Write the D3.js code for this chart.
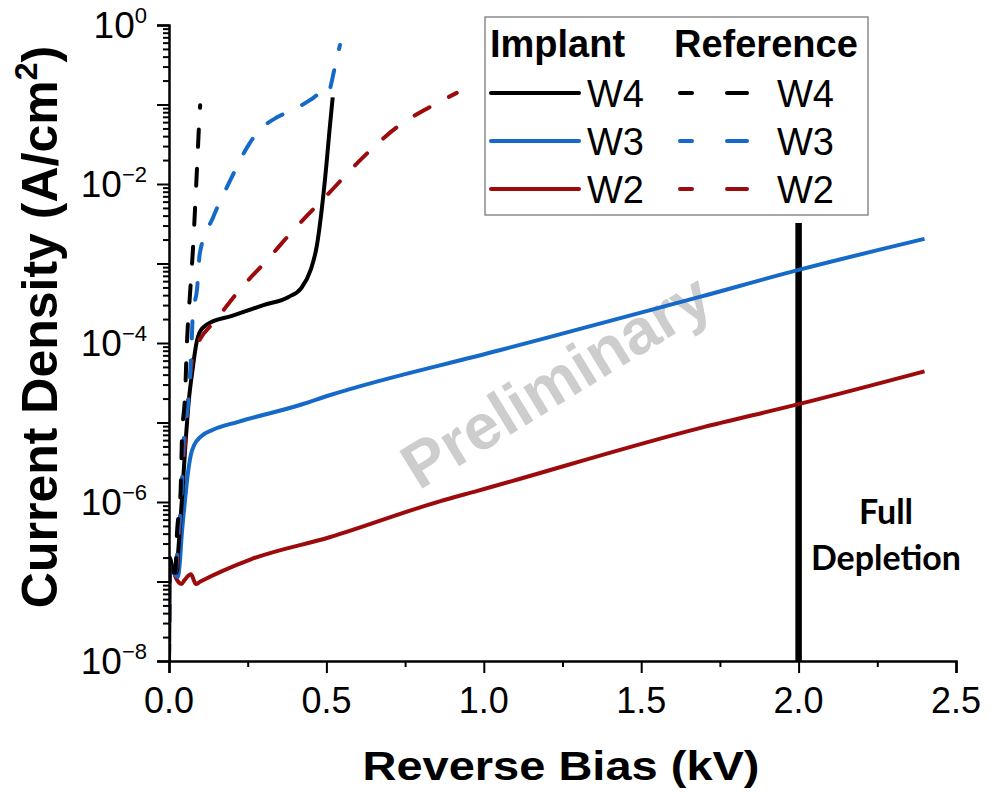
<!DOCTYPE html>
<html>
<head>
<meta charset="utf-8">
<script src="https://cdn.jsdelivr.net/npm/d3@7"></script>
<style>
  body { margin: 0; background: #fff; }
  svg { display: block; }
  text { font-family: "Liberation Sans", Arial, sans-serif; }
</style>
</head>
<body>
<div id="chart"></div>
<script>
// Bias in kV, current density in A/cm2
const w4ImplantV = [0, 0.002, 0.015, 0.025, 0.029, 0.041, 0.051, 0.063, 0.076, 0.086, 0.098, 0.12, 0.20, 0.30, 0.38, 0.42, 0.45, 0.47, 0.485, 0.50, 0.51, 0.52];
const w4ImplantJ = [1e-8, 2e-7, 1.3e-7, 1.3e-7, 2.3e-7, 1.07e-6, 4.5e-6, 1.9e-5, 5e-5, 9.4e-5, 1.38e-4, 1.7e-4, 2.2e-4, 3.0e-4, 3.8e-4, 4.9e-4, 8.3e-4, 1.7e-3, 4.7e-3, 1.74e-2, 4.8e-2, 0.123];

const w3ImplantV = [0, 0.002, 0.015, 0.028, 0.033, 0.041, 0.051, 0.060, 0.070, 0.080, 0.100, 0.14, 0.22, 0.416, 0.51, 1.05, 1.686, 2.0, 2.4];
const w3ImplantJ = [1e-8, 1.9e-7, 1.3e-7, 1.15e-7, 1.5e-7, 4.1e-7, 1.07e-6, 2.3e-6, 4.0e-6, 5.2e-6, 6.6e-6, 8.1e-6, 1.02e-5, 1.66e-5, 2.2e-5, 8.1e-5, 3.8e-4, 8.3e-4, 2.04e-3];

const w2ImplantV = [0, 0.002, 0.01, 0.025, 0.04, 0.05, 0.07, 0.085, 0.1, 0.26, 0.51, 0.86, 0.98, 1.686, 2.0, 2.4];
const w2ImplantJ = [1e-8, 1.9e-7, 1.5e-7, 1.05e-7, 9.3e-8, 1.05e-7, 1.23e-7, 9.3e-8, 1.0e-7, 1.9e-7, 3.6e-7, 1.02e-6, 1.38e-6, 8.5e-6, 1.7e-5, 4.4e-5];

const w4RefV = [0, 0.002, 0.02, 0.025, 0.037, 0.041, 0.051, 0.057, 0.067, 0.076, 0.083, 0.089, 0.098, 0.099];
const w4RefJ = [1e-8, 2e-7, 1.3e-7, 3.8e-7, 1.4e-6, 6.0e-6, 2.2e-5, 1.0e-4, 4.3e-4, 1.5e-3, 5.1e-3, 1.6e-2, 8.5e-2, 9.8e-2];

const w3RefV = [0, 0.002, 0.02, 0.029, 0.040, 0.046, 0.062, 0.071, 0.076, 0.089, 0.098, 0.140, 0.194, 0.257, 0.289, 0.343, 0.394, 0.457, 0.489, 0.502, 0.527, 0.543];
const w3RefJ = [1e-8, 1.9e-7, 1.3e-7, 3.6e-7, 1.3e-6, 5.2e-6, 2.0e-5, 8.1e-5, 2.4e-4, 4.7e-4, 1.35e-3, 3.8e-3, 1.1e-2, 3.3e-2, 4.8e-2, 6.9e-2, 8.5e-2, 0.12, 0.145, 0.132, 0.295, 0.56];

const w2RefV = [0, 0.002, 0.02, 0.032, 0.040, 0.051, 0.062, 0.076, 0.092, 0.149, 0.225, 0.311, 0.394, 0.511, 0.613, 0.733, 0.829, 0.914];
const w2RefJ = [1e-8, 1.9e-7, 1.3e-7, 3.6e-7, 1.4e-6, 5.5e-6, 2.1e-5, 7.1e-5, 1.0e-4, 1.95e-4, 4.7e-4, 1.1e-3, 2.6e-3, 7.9e-3, 2.1e-2, 5.5e-2, 9.3e-2, 0.14];

const xTicks = [0, 0.5, 1.0, 1.5, 2.0, 2.5];
const yLabelExps = [0, -2, -4, -6, -8];
const fullDepletionV = 2.0;

const seriesNames = ['W4', 'W3', 'W2'];
const seriesColors = ['#000000', '#1469c9', '#9c0a0c'];

const width = 992;
const height = 795;

const svg = d3.select('#chart').append('svg')
  .attr('width', width)
  .attr('height', height);

const x = d3.scaleLinear().domain([0, 2.5]).range([169, 956]);
const y = d3.scaleLog().domain([1e-8, 1]).range([661, 25]);

svg.append('defs').append('clipPath')
  .attr('id', 'plot-clip')
  .append('rect')
  .attr('x', x(0))
  .attr('y', y(1) - 2)
  .attr('width', x(2.5) - x(0))
  .attr('height', y(1e-8) - y(1) + 2);

// Watermark sits behind the data
svg.append('text')
  .attr('transform', 'translate(556,381) rotate(-31.5)')
  .attr('text-anchor', 'middle')
  .attr('dominant-baseline', 'central')
  .style('font-size', '64px')
  .style('font-weight', 'bold')
  .style('fill', '#cdcdcd')
  .text('Preliminary');

// Axes
const xAxis = svg.append('g')
  .attr('transform', `translate(0,${y(1e-8)})`)
  .call(d3.axisBottom(x).tickValues(d3.range(0, 2.51, 0.25)).tickSize(12).tickFormat(''));
xAxis.selectAll('.tick line')
  .attr('y2', d => (Math.round(d * 100) % 50 === 0 ? 12 : 6));

xAxis.selectAll('.x-label')
  .data(xTicks)
  .join('text')
  .attr('x', d => x(d))
  .attr('y', 52)
  .attr('text-anchor', 'middle')
  .style('font-size', '36px')
  .style('fill', '#000')
  .text(d => d.toFixed(1));

const minorY = [];
for (let e = -8; e < 0; e++) {
  for (let m = 1; m <= 9; m++) minorY.push(m * Math.pow(10, e));
}
minorY.push(1);

const yAxis = svg.append('g')
  .attr('transform', `translate(${x(0)},0)`)
  .call(d3.axisLeft(y).tickValues(minorY).tickFormat('').tickSize(12));
yAxis.selectAll('.tick line')
  .attr('x2', d => {
    const e = Math.log10(d);
    return Math.abs(e - Math.round(e)) < 1e-6 ? -12 : -6;
  });

[xAxis, yAxis].forEach(g => {
  g.select('.domain').attr('stroke-width', 2.5).attr('stroke', '#000');
  g.selectAll('.tick line').attr('stroke-width', 2).attr('stroke', '#000');
});

const yLabels = svg.append('g');
yLabelExps.forEach(e => {
  const t = yLabels.append('text')
    .attr('x', 147)
    .attr('y', y(Math.pow(10, e)) + 13)
    .attr('text-anchor', 'end')
    .style('font-size', '37px');
  t.append('tspan').text('10');
  t.append('tspan')
    .attr('dy', -15)
    .style('font-size', '22px')
    .text(e === 0 ? '0' : '\u2212' + Math.abs(e));
});

// Axis titles
svg.append('text')
  .attr('x', 561)
  .attr('y', 780)
  .attr('text-anchor', 'middle')
  .attr('textLength', 397)
  .attr('lengthAdjust', 'spacingAndGlyphs')
  .style('font-size', '40px')
  .style('font-weight', 'bold')
  .text('Reverse Bias (kV)');

const yTitle = svg.append('text')
  .attr('transform', 'translate(57,327) rotate(-90)')
  .attr('text-anchor', 'middle')
  .style('font-size', '50px')
  .style('font-weight', 'bold');
yTitle.append('tspan').text('Current Density (A/cm');
yTitle.append('tspan').attr('dy', -20).style('font-size', '32px').text('2');
yTitle.append('tspan').attr('dy', 20).text(')');

// Full depletion marker
svg.append('line')
  .attr('x1', x(fullDepletionV))
  .attr('x2', x(fullDepletionV))
  .attr('y1', 223)
  .attr('y2', y(1e-8))
  .attr('stroke', '#000')
  .attr('stroke-width', 6.5);

const fdText = svg.append('text')
  .attr('text-anchor', 'middle')
  .style('font-family', 'Lato, "Open Sans", sans-serif')
  .style('font-weight', 'bold')
  .style('font-size', '34px');
fdText.append('tspan').attr('x', 886).attr('y', 524).text('Full');
fdText.append('tspan').attr('x', 886).attr('y', 570).text('Depletion');

// Curves
const line = d3.line()
  .x(d => x(d[0]))
  .y(d => y(d[1]))
  .curve(d3.curveMonotoneX);

const implant = [
  d3.zip(w4ImplantV, w4ImplantJ),
  d3.zip(w3ImplantV, w3ImplantJ),
  d3.zip(w2ImplantV, w2ImplantJ)
];
const reference = [
  d3.zip(w4RefV, w4RefJ),
  d3.zip(w3RefV, w3RefJ),
  d3.zip(w2RefV, w2RefJ)
];

const curves = svg.append('g').attr('clip-path', 'url(#plot-clip)');

[2, 1, 0].forEach(i => {
  curves.append('path')
    .attr('d', line(implant[i]))
    .attr('fill', 'none')
    .attr('stroke', seriesColors[i])
    .attr('stroke-width', 4)
    .attr('stroke-linejoin', 'round');
});

[2, 1, 0].forEach(i => {
  curves.append('path')
    .attr('d', line(reference[i]))
    .attr('fill', 'none')
    .attr('stroke', seriesColors[i])
    .attr('stroke-width', 4)
    .attr('stroke-linecap', 'round')
    .attr('stroke-dasharray', '17,22');
});

// Legend
const legend = svg.append('g');
legend.append('rect')
  .attr('x', 485)
  .attr('y', 17)
  .attr('width', 383)
  .attr('height', 198)
  .attr('fill', '#fff')
  .attr('stroke', '#8a8a8a')
  .attr('stroke-width', 1.5);

legend.append('text')
  .attr('x', 490).attr('y', 57)
  .style('font-size', '38px').style('font-weight', 'bold')
  .text('Implant');
legend.append('text')
  .attr('x', 674).attr('y', 57)
  .style('font-size', '38px').style('font-weight', 'bold')
  .text('Reference');

seriesNames.forEach((name, i) => {
  const cy = 93 + i * 48;
  legend.append('line')
    .attr('x1', 491).attr('x2', 579)
    .attr('y1', cy).attr('y2', cy)
    .attr('stroke', seriesColors[i])
    .attr('stroke-width', 4)
    .attr('stroke-linecap', 'round');
  legend.append('text')
    .attr('x', 587).attr('y', cy + 14)
    .style('font-size', '38px')
    .text(name);
  legend.append('line')
    .attr('x1', 680).attr('x2', 747)
    .attr('y1', cy).attr('y2', cy)
    .attr('stroke', seriesColors[i])
    .attr('stroke-width', 4)
    .attr('stroke-linecap', 'round')
    .attr('stroke-dasharray', '12,35,20');
  legend.append('text')
    .attr('x', 777).attr('y', cy + 14)
    .style('font-size', '38px')
    .text(name);
});
</script>
</body>
</html>
